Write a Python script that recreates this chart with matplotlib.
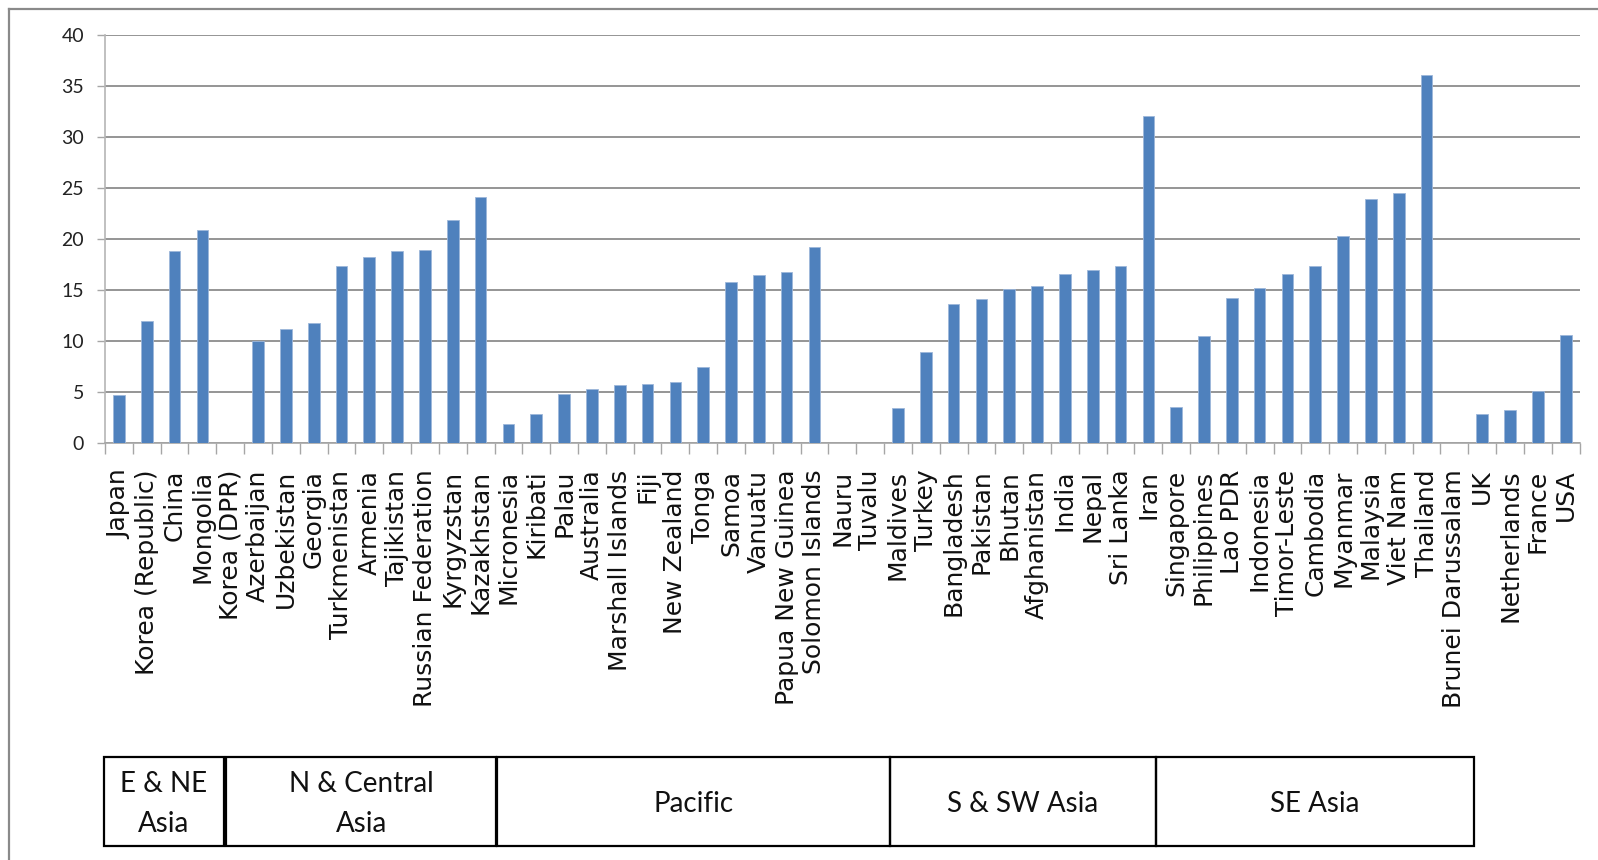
import matplotlib
matplotlib.use("Agg")
import matplotlib.pyplot as plt
import matplotlib.transforms as mtransforms
from matplotlib.patches import Rectangle
from matplotlib.lines import Line2D
import numpy as np

# Countries, in the order they are grouped by region
countries = [
    "Japan", "Korea (Republic)", "China", "Mongolia", "Korea (DPR)",
    "Azerbaijan", "Uzbekistan", "Georgia", "Turkmenistan", "Armenia",
    "Tajikistan", "Russian Federation", "Kyrgyzstan", "Kazakhstan",
    "Micronesia", "Kiribati", "Palau", "Australia", "Marshall Islands",
    "Fiji", "New Zealand", "Tonga", "Samoa", "Vanuatu",
    "Papua New Guinea", "Solomon Islands", "Nauru", "Tuvalu",
    "Maldives", "Turkey", "Bangladesh", "Pakistan", "Bhutan",
    "Afghanistan", "India", "Nepal", "Sri Lanka", "Iran",
    "Singapore", "Philippines", "Lao PDR", "Indonesia", "Timor-Leste",
    "Cambodia", "Myanmar", "Malaysia", "Viet Nam", "Thailand",
    "Brunei Darussalam", "UK", "Netherlands", "France", "USA",
]

values = [
    4.7, 12.0, 18.8, 20.9, 0.0,
    10.0, 11.2, 11.8, 17.4, 18.3,
    18.8, 18.9, 21.9, 24.1,
    1.9, 2.9, 4.8, 5.3, 5.7,
    5.8, 6.0, 7.5, 15.8, 16.5,
    16.8, 19.2, 0.0, 0.0,
    3.5, 8.9, 13.6, 14.1, 15.1,
    15.4, 16.6, 17.0, 17.4, 32.1,
    3.6, 10.5, 14.2, 15.2, 16.6,
    17.4, 20.3, 23.9, 24.5, 36.1,
    0.0, 2.9, 3.3, 5.1, 10.6,
]

y_ticks = [0, 5, 10, 15, 20, 25, 30, 35, 40]

# Region boxes under the category labels (edges in category units)
regions = ["E & NE\nAsia", "N & Central\nAsia", "Pacific", "S & SW Asia", "SE Asia"]
region_left = [-0.54, 3.86, 13.60, 27.71, 37.27]
region_right = [3.78, 13.57, 27.71, 37.27, 48.69]

BAR = "#4F81BD"
GRID = "#8C8C8C"

W, H = 1598, 860
fig = plt.figure(figsize=(W / 100, H / 100), dpi=100)
fig.patch.set_facecolor("white")

ax = fig.add_axes([105 / W, 1 - 443.3 / H, (1579.6 - 105) / W, (443.3 - 35) / H])

x = np.arange(len(countries))
ax.bar(x, values, width=0.42, color=BAR, edgecolor="#9DB7DA", linewidth=0.6, zorder=3)

ax.set_xlim(-0.5, len(countries) - 0.5)
ax.set_ylim(0, 40)

ax.set_yticks(y_ticks)
ax.set_yticklabels([str(v) for v in y_ticks], fontsize=14, family="Lato", color="#222222")
ax.yaxis.grid(True, color=GRID, linewidth=1.3, zorder=0)
ax.tick_params(axis="y", length=6, width=1.0, color="#A6A6A6", pad=9)

# Major x ticks sit between categories, labels on the category centres
ax.set_xticks(np.arange(-0.5, len(countries), 1.0))
ax.set_xticklabels([])
ax.tick_params(axis="x", which="major", length=8, width=1.0, color="#A6A6A6")
ax.set_xticks(x, minor=True)
ax.set_xticklabels(countries, minor=True, rotation=90, fontsize=18,
                   family="DejaVu Sans", color="#111111", va="top", ha="center")
ax.tick_params(axis="x", which="minor", length=0, pad=19)

for side in ("top", "right"):
    ax.spines[side].set_visible(False)
ax.spines["left"].set_color("#B5B5B5")
ax.spines["left"].set_linewidth(1.2)
ax.spines["bottom"].set_color("#A6A6A6")
ax.spines["bottom"].set_linewidth(1.2)

# Region boxes
trans = mtransforms.blended_transform_factory(ax.transData, fig.transFigure)
box_top = 1 - 756.7 / H
box_bot = 1 - 846 / H
text_y = 1 - 804 / H
for name, l, r in zip(regions, region_left, region_right):
    ax.add_patch(Rectangle((l, box_bot), r - l, box_top - box_bot, transform=trans,
                           fill=False, edgecolor="black", linewidth=1.6, clip_on=False))
    ax.text((l + r) / 2, text_y, name, transform=trans,
            ha="center", va="center", fontsize=20, family="Lato",
            color="#111111", linespacing=1.62, clip_on=False)

# Outer frame of the chart area
fig.add_artist(Line2D([8.5 / W, 8.5 / W], [0, 1 - 9.3 / H], transform=fig.transFigure,
                      color="#8A8A8A", linewidth=1.6))
fig.add_artist(Line2D([8.5 / W, 1], [1 - 9.3 / H, 1 - 9.3 / H], transform=fig.transFigure,
                      color="#8A8A8A", linewidth=1.6))

fig.savefig("out.png", dpi=100, facecolor="white")
